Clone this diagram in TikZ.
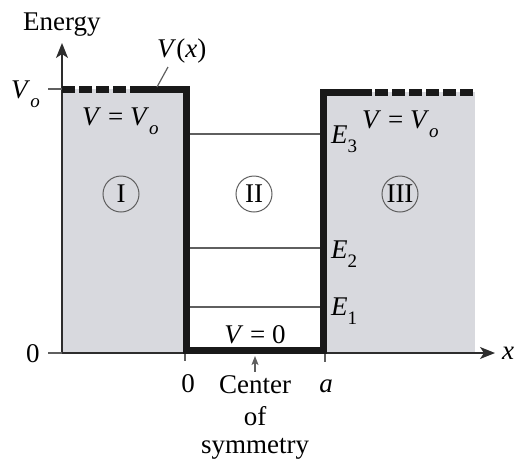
\documentclass[tikz,border=0pt]{standalone}
\usepackage{fontspec}
\setmainfont{Liberation Serif}
\usetikzlibrary{arrows.meta}
\definecolor{wellgray}{RGB}{216,217,222}
\definecolor{levelgray}{RGB}{95,95,95}
\definecolor{axisgray}{RGB}{45,45,45}
\newcommand\lowsub[1]{\raisebox{-0.36em}{\fontsize{19}{20}\selectfont #1}}
\begin{document}
\begin{tikzpicture}[x=1pt,y=-1pt,
  lbl/.style={font=\fontsize{27}{30}\selectfont, inner sep=0pt},
  wall/.style={line width=7pt, line join=miter, line cap=butt, black!90},
  dashwall/.style={line width=7pt, line cap=butt, black!90, dash pattern=on 13pt off 4pt},
  level/.style={levelgray, line width=1.2pt},
  axis/.style={axisgray, line width=1.5pt},
  tick/.style={levelgray, line width=1.2pt},
  region/.style={circle, draw=levelgray, line width=1pt, minimum size=36pt, inner sep=0pt, font=\fontsize{27}{30}\selectfont}
]
\useasboundingbox (0,0) rectangle (515,467);
% fills
\fill[wellgray] (62,89) rectangle (186.5,353);
\fill[wellgray] (323.5,92) rectangle (475,353);
% coordinates
\coordinate (O) at (62,353);
\coordinate (ytop) at (62,43);
\coordinate (xend) at (495,353);
\coordinate (lt0) at (62,89);
\coordinate (lt1) at (133,89);
\coordinate (lc) at (186.5,89);
\coordinate (lb) at (186.5,350);
\coordinate (rb) at (323.5,350);
\coordinate (rc) at (323.5,92);
\coordinate (rt1) at (372,92);
\coordinate (rt2) at (375,92);
\coordinate (rt3) at (475,92);
% energy levels
\coordinate (e3l) at (190,134); \coordinate (e3r) at (320,134);
\coordinate (e2l) at (190,248); \coordinate (e2r) at (320,248);
\coordinate (e1l) at (190,307); \coordinate (e1r) at (320,307);
\draw[level] (e3l) -- (e3r);
\draw[level] (e2l) -- (e2r);
\draw[level] (e1l) -- (e1r);
% axes
\draw[axis,-{Stealth[length=15pt,width=12pt,inset=4pt]}] (O) -- (ytop);
\draw[axis,-{Stealth[length=15pt,width=12pt,inset=4pt]}] (O) -- (xend);
% ticks
\coordinate (vt0) at (48,89); \coordinate (vt1) at (62,89);
\coordinate (zt0) at (48,353);
\draw[tick] (vt0) -- (vt1);
\draw[tick] (zt0) -- (O);
\coordinate (t0a) at (185,353); \coordinate (t0b) at (185,361);
\coordinate (taa) at (325,353); \coordinate (tab) at (325,362);
\draw[tick] (t0a) -- (t0b);
\draw[tick] (taa) -- (tab);
% potential
\draw[dashwall] (lt0) -- (lt1);
\draw[wall] (lt1) -- (lc) -- (lb) -- (rb) -- (rc) -- (rt1);
\draw[dashwall] (rt2) -- (rt3);
% labels
\node[lbl, anchor=base west] (energy) at (23,30) {Energy};
\node[lbl, anchor=base west] (vx) at (157,57) {\textit{V}(\textit{x})};
\coordinate (vxa) at (168,67); \coordinate (vxb) at (157,87);
\draw[levelgray, line width=1.2pt] (vxa) -- (vxb);
\node[lbl, anchor=base west] (vo) at (11,98) {\textit{V}\lowsub{\textit{o}}};
\node[lbl, anchor=base] (zero) at (33,362) {0};
\node[lbl, anchor=base west] (vleft) at (82,125) {\textit{V} = \textit{V}\lowsub{\textit{o}}};
\node[lbl, anchor=base west] (vright) at (362,128) {\textit{V} = \textit{V}\lowsub{\textit{o}}};
\node[lbl, anchor=base west] (E3) at (331,143) {\textit{E}\lowsub{3}};
\node[lbl, anchor=base west] (E2) at (331,258) {\textit{E}\lowsub{2}};
\node[lbl, anchor=base west] (E1) at (331,315) {\textit{E}\lowsub{1}};
\node[region] (r1) at (121,194) {I};
\node[region] (r2) at (254,194) {II};
\node[region] (r3) at (400,194) {III};
\node[lbl, anchor=base] (v0) at (255,343) {\textit{V} = 0};
\node[lbl, anchor=base west] (xl) at (502,359) {\textit{x}};
\node[lbl, anchor=base] (z0) at (188,392) {0};
\node[lbl, anchor=base] (al) at (326,392) {\textit{a}};
\node[lbl, anchor=base] (cen) at (255,393) {Center};
\node[lbl, anchor=base] (of) at (255,425) {of};
\node[lbl, anchor=base] (sym) at (255,453) {symmetry};
\draw[levelgray, line width=1.2pt, -{Stealth[length=9pt,width=7pt,inset=2pt]}] (cen.north) ++(0,-3) -- (255,356);
\end{tikzpicture}
\end{document}
